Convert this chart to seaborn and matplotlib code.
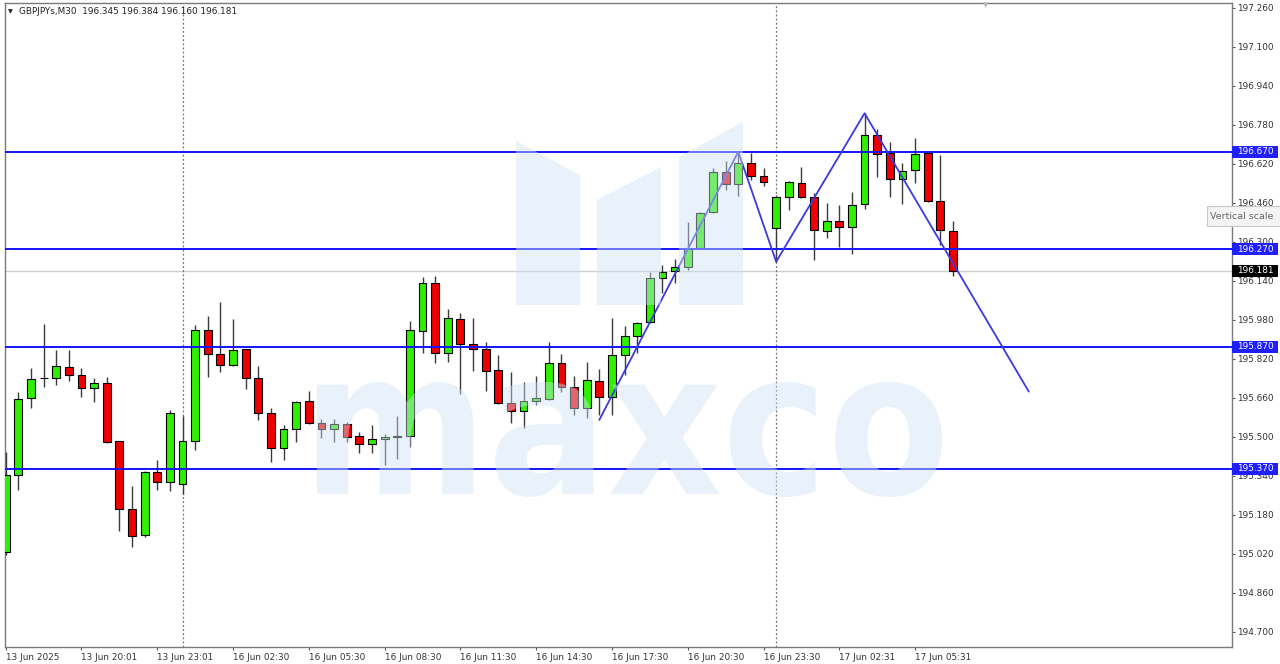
import numpy as np
import matplotlib
matplotlib.use("Agg")
import matplotlib.pyplot as plt
import seaborn as sns
from matplotlib.patches import Rectangle, Polygon, PathPatch
from matplotlib.textpath import TextPath
from matplotlib.font_manager import FontProperties
from matplotlib.transforms import Affine2D, blended_transform_factory

# ---------------- data (GBPJPYs, M30) ----------------
opens = [195.028, 195.344, 195.660, 195.742, 195.742, 195.787, 195.754, 195.701, 195.722, 195.484,
         195.205, 195.098, 195.356, 195.315, 195.307, 195.484, 195.939, 195.841, 195.795, 195.861,
         195.742, 195.598, 195.455, 195.533, 195.648, 195.557, 195.533, 195.553, 195.504, 195.471,
         195.492, 195.500, 195.504, 195.935, 196.132, 195.845, 195.984, 195.881, 195.861, 195.775,
         195.640, 195.607, 195.648, 195.656, 195.804, 195.705, 195.619, 195.730, 195.664, 195.836,
         195.914, 195.972, 196.152, 196.181, 196.197, 196.275, 196.423, 196.587, 196.538, 196.624,
         196.571, 196.357, 196.485, 196.542, 196.485, 196.345, 196.386, 196.362, 196.456, 196.739,
         196.665, 196.558, 196.595, 196.665, 196.468, 196.345]
highs = [195.438, 195.685, 195.783, 195.964, 195.857, 195.857, 195.783, 195.742, 195.746, 195.484,
         195.299, 195.360, 195.406, 195.611, 195.586, 195.960, 195.996, 196.054, 195.984, 195.861,
         195.791, 195.619, 195.549, 195.648, 195.689, 195.574, 195.574, 195.562, 195.520, 195.549,
         195.512, 195.586, 195.976, 196.156, 196.160, 196.025, 196.009, 195.988, 195.890, 195.836,
         195.767, 195.726, 195.750, 195.890, 195.841, 195.750, 195.808, 195.779, 195.988, 195.955,
         195.972, 196.177, 196.206, 196.230, 196.382, 196.423, 196.604, 196.632, 196.669, 196.665,
         196.604, 196.493, 196.550, 196.608, 196.501, 196.460, 196.452, 196.505, 196.829, 196.764,
         196.710, 196.624, 196.727, 196.669, 196.657, 196.384]
lows = [195.016, 195.283, 195.619, 195.705, 195.713, 195.730, 195.664, 195.644, 195.475, 195.114,
        195.049, 195.090, 195.283, 195.278, 195.266, 195.447, 195.746, 195.767, 195.791, 195.697,
        195.570, 195.397, 195.406, 195.480, 195.553, 195.496, 195.480, 195.480, 195.434, 195.434,
        195.385, 195.410, 195.459, 195.845, 195.804, 195.808, 195.676, 195.771, 195.689, 195.636,
        195.557, 195.537, 195.631, 195.652, 195.685, 195.590, 195.578, 195.590, 195.590, 195.754,
        195.845, 195.968, 196.091, 196.132, 196.185, 196.271, 196.419, 196.513, 196.489, 196.554,
        196.530, 196.218, 196.431, 196.481, 196.226, 196.316, 196.280, 196.251, 196.435, 196.567,
        196.485, 196.456, 196.542, 196.464, 196.288, 196.160]
closes = [195.344, 195.656, 195.738, 195.742, 195.791, 195.754, 195.701, 195.722, 195.480, 195.205,
          195.094, 195.356, 195.315, 195.598, 195.484, 195.939, 195.841, 195.795, 195.857, 195.742,
          195.598, 195.455, 195.533, 195.644, 195.557, 195.533, 195.553, 195.500, 195.471, 195.492,
          195.500, 195.504, 195.939, 196.132, 195.845, 195.988, 195.881, 195.861, 195.771, 195.640,
          195.607, 195.648, 195.660, 195.804, 195.705, 195.619, 195.734, 195.664, 195.836, 195.914,
          195.968, 196.152, 196.177, 196.197, 196.271, 196.419, 196.587, 196.538, 196.624, 196.571,
          196.546, 196.485, 196.546, 196.485, 196.349, 196.386, 196.362, 196.452, 196.739, 196.661,
          196.558, 196.591, 196.661, 196.468, 196.349, 196.181]

zigzag_idx = [47, 58, 61, 68, 81]
zigzag_price = [195.570, 196.670, 196.219, 196.828, 195.686]

levels = [196.670, 196.270, 195.870, 195.370]
level_labels = ["196.670", "196.270", "195.870", "195.370"]
current_price = 196.181
current_label = "196.181"
day_sep_idx = [14, 61]

xtick_idx = [0, 6, 12, 18, 24, 30, 36, 42, 48, 54, 60, 66, 72]
xtick_labels = ["13 Jun 2025", "13 Jun 20:01", "13 Jun 23:01", "16 Jun 02:30", "16 Jun 05:30",
                "16 Jun 08:30", "16 Jun 11:30", "16 Jun 14:30", "16 Jun 17:30", "16 Jun 20:30",
                "16 Jun 23:30", "17 Jun 02:31", "17 Jun 05:31"]
ytick_vals = [194.700, 194.860, 195.020, 195.180, 195.340, 195.500, 195.660, 195.820, 195.980,
              196.140, 196.300, 196.460, 196.620, 196.780, 196.940, 197.100, 197.260]
ytick_labels = ["194.700", "194.860", "195.020", "195.180", "195.340", "195.500", "195.660",
                "195.820", "195.980", "196.140", "196.300", "196.460", "196.620", "196.780",
                "196.940", "197.100", "197.260"]
header = "GBPJPYs,M30  196.345 196.384 196.160 196.181"

# ---------------- style ----------------
sns.set_theme(style="white")
plt.rcParams["font.family"] = ["DejaVu Sans"]

W, H = 1280, 664
fig = plt.figure(figsize=(W / 100, H / 100), dpi=100)
ax = fig.add_axes([5 / W, 17 / H, 1227 / W, 644 / H])

o = np.array(opens); h = np.array(highs); l = np.array(lows); c = np.array(closes)
idx = np.arange(len(o))
up = c >= o
body_col = np.where(up, "#2ef000", "#ee0000")

ax.vlines(idx, l, h, color="#3a3a3a", lw=1.0, zorder=3)
ax.bar(idx, np.maximum(np.abs(c - o), 0.0005), bottom=np.minimum(o, c), width=0.62,
       color=body_col, edgecolor="black", linewidth=0.8, zorder=4)

for lv in levels:
    ax.axhline(lv, color="#1414ff", lw=1.4, zorder=5)
ax.axhline(current_price, color="#cfcfcf", lw=1.0, zorder=2)
for d in day_sep_idx:
    ax.axvline(d, color="#707070", lw=0.9, ls=(0, (1.5, 1.8)), zorder=2)

sns.lineplot(x=zigzag_idx, y=zigzag_price, ax=ax, color="#3a3ae0", lw=1.3, zorder=6)

ax.set_xlim(-0.055, 97.09)
ax.set_ylim(194.638, 197.2805)

# axes frame
for s in ax.spines.values():
    s.set_color("#7a7a7a")
    s.set_linewidth(1.0)

ax.yaxis.tick_right()
ax.set_yticks(ytick_vals, ytick_labels)
ax.tick_params(axis="y", which="both", right=True, left=False, length=2.5, width=0.8,
               color="#555555", direction="out", pad=1.5, labelsize=6.4, labelcolor="#333333")
ax.set_xticks(xtick_idx, xtick_labels)
ax.tick_params(axis="x", which="both", bottom=True, length=2.5, width=0.8, color="#555555",
               direction="out", pad=1.5, labelsize=6.4, labelcolor="#333333")
for lab in ax.get_xticklabels():
    lab.set_horizontalalignment("left")
ax.set_xlabel("")
ax.set_ylabel("")

# price boxes on the right scale
bt = blended_transform_factory(ax.transAxes, ax.transData)
box_w = 46 / 1227
box_h = 12 * 0.004103
for lv, lbl in zip(levels, level_labels):
    ax.add_patch(Rectangle((1.0, lv - box_h / 2), box_w, box_h, transform=bt, clip_on=False,
                           fc="#1f1fff", ec="none", zorder=20))
    ax.text(1.0 + box_w / 2, lv, lbl, transform=bt, ha="center", va="center",
            color="white", fontsize=6.4, zorder=21, clip_on=False)
ax.add_patch(Rectangle((1.0, current_price - box_h / 2), box_w, box_h, transform=bt,
                       clip_on=False, fc="#000000", ec="none", zorder=20))
ax.text(1.0 + box_w / 2, current_price, current_label, transform=bt, ha="center", va="center",
        color="white", fontsize=6.4, zorder=21, clip_on=False)

# header
fig.text(8 / W, 1 - 12 / H, "\u25BC", fontsize=4.5, color="#222222", va="center", ha="left")
fig.text(19 / W, 1 - 12 / H, header, fontsize=6.4, color="#222222", va="center", ha="left")
fig.text(986 / W, 1 - 5 / H, "\u25BC", fontsize=5, color="#b8b8b8", va="center", ha="center")

# tooltip
fig.add_artist(Rectangle((1207 / W, 1 - 226 / H), 80 / W, 20 / H, transform=fig.transFigure,
                         fc="#f4f4f4", ec="#c8c8c8", lw=0.8, zorder=30))
fig.text(1210 / W, 1 - 216 / H, "Vertical scale", fontsize=6.8, color="#666666",
         va="center", ha="left", zorder=31)

# watermark (logo + text), drawn translucent on top
wm_col = "#cfe3f5"
wm_alpha = 0.45
def fx(px):
    return px / W
def fy(py):
    return 1 - py / H
logo = [
    [(516, 141), (580, 175), (580, 305), (516, 305)],
    [(597, 200), (661, 167), (661, 305), (597, 305)],
    [(679, 157), (743, 122), (743, 305), (679, 305)],
]
for poly in logo:
    fig.add_artist(Polygon([(fx(a), fy(b)) for a, b in poly], closed=True,
                           transform=fig.transFigure, fc=wm_col, ec="none",
                           alpha=wm_alpha, zorder=10))
fp = FontProperties(family="DejaVu Sans", weight="bold")
tp = TextPath((0, 0), "maxco", size=100, prop=fp)
ext = tp.get_extents()
x0, x1, y0, y1 = fx(317), fx(942), fy(497), fy(382)
tr = (Affine2D().translate(-ext.x0, -ext.y0)
      .scale((x1 - x0) / ext.width, (y1 - y0) / ext.height)
      .translate(x0, y0) + fig.transFigure)
fig.add_artist(PathPatch(tp, transform=tr, fc=wm_col, ec="none", alpha=wm_alpha, zorder=10))

fig.savefig("out.png", dpi=100, facecolor="white")
